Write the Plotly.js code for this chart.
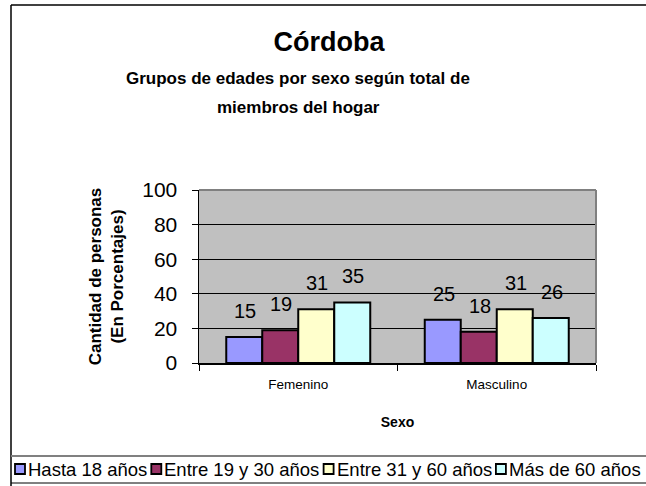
<!DOCTYPE html>
<html><head><meta charset="utf-8">
<script src="https://cdn.plot.ly/plotly-3.0.1.min.js"></script>
<style>html,body{margin:0;padding:0;background:#fff;} #chart{width:646px;height:486px;}</style>
</head><body><div id="chart"></div>
<script>
// ---- data ----
const categories = ["Femenino", "Masculino"];
const seriesNames = ["Hasta 18 años", "Entre 19 y 30 años", "Entre 31 y 60 años", "Más de 60 años"];
const hasta18 = [15, 25];
const entre19y30 = [19, 18];
const entre31y60 = [31, 31];
const masDe60 = [35, 26];
const seriesColors = ["#9999FF", "#993366", "#FFFFCC", "#CCFFFF"];
const yTickVals = [0, 20, 40, 60, 80, 100];
const titleText = "Córdoba";
const subtitleLines = ["Grupos de edades por sexo según total de", "miembros del hogar"];
const xTitleText = "Sexo";
const yTitleText = "Cantidad de personas<br>(En Porcentajes)";

// ---- geometry ----
const W = 646, H = 486;
const L = 199, R = 596, T = 190, B = 363;
const FONT = '"Liberation Sans", Arial, Helvetica, sans-serif';
const px = x => (x - L) / (R - L);
const py = y => (B - y) / (B - T);
const bargap = 0.2746;

const seriesValues = [hasta18, entre19y30, entre31y60, masDe60];
const traces = seriesValues.map((vals, i) => ({
  type: 'bar', name: seriesNames[i], x: categories, y: vals,
  marker: {color: seriesColors[i], line: {color: '#000', width: 2}},
  hoverinfo: 'skip', showlegend: false
}));

const nS = seriesValues.length;
const bw = (R - L) / categories.length * (1 - bargap) / nS;
const annotations = [];
seriesValues.forEach((vals, i) => {
  vals.forEach((v, j) => {
    annotations.push({x: categories[j], y: v, xref: 'x', yref: 'y', text: String(v),
      showarrow: false, xshift: (i - (nS - 1) / 2) * bw + 1, yshift: 26, yanchor: 'middle',
      font: {family: FONT, size: 20, color: '#000'}});
  });
});
// subtitle lines
const subY = [78, 108];
subtitleLines.forEach((t, k) => {
  annotations.push({xref: 'paper', yref: 'paper', x: px(298), y: py(subY[k]), xanchor: 'center', yanchor: 'middle',
    text: '<b>' + t + '</b>', showarrow: false, font: {family: FONT, size: 17, color: '#000'}});
});

// manual legend
const legendSize = 18.5;
const ctx = document.createElement('canvas').getContext('2d');
ctx.font = legendSize + 'px ' + FONT;
const shapes = [];
let cx = 15;
const ly = 469;
seriesNames.forEach((name, i) => {
  shapes.push({type: 'rect', xref: 'paper', yref: 'paper', x0: px(cx), x1: px(cx + 10), y0: py(ly + 5), y1: py(ly - 5),
    fillcolor: seriesColors[i], line: {color: '#000', width: 1.8}});
  const tx = cx + 12;
  annotations.push({xref: 'paper', yref: 'paper', x: px(tx), y: py(ly), xanchor: 'left', yanchor: 'middle',
    text: name, showarrow: false, borderpad: 0, font: {family: FONT, size: legendSize, color: '#000'}});
  cx = tx + ctx.measureText(name).width + 5;
});

// frame lines
shapes.push({type: 'line', xref: 'paper', yref: 'paper', x0: px(11), x1: px(W), y0: py(5), y1: py(5), line: {color: '#000', width: 1.5}});
shapes.push({type: 'line', xref: 'paper', yref: 'paper', x0: px(11), x1: px(11), y0: py(5), y1: py(H), line: {color: '#000', width: 1.5}});
shapes.push({type: 'line', xref: 'paper', yref: 'paper', x0: px(11), x1: px(W), y0: py(456), y1: py(456), line: {color: '#808080', width: 2}});
shapes.push({type: 'line', xref: 'paper', yref: 'paper', x0: px(11), x1: px(W), y0: py(483), y1: py(483), line: {color: '#000', width: 1}});
// plot border top / right (gray)
shapes.push({type: 'line', xref: 'paper', yref: 'paper', x0: 0, x1: 1, y0: 1, y1: 1, line: {color: '#808080', width: 2}});
shapes.push({type: 'line', xref: 'paper', yref: 'paper', x0: 1, x1: 1, y0: 0, y1: 1, line: {color: '#808080', width: 2}});

const layout = {
  width: W, height: H,
  margin: {l: L, r: W - R, t: T, b: H - B, pad: 0},
  paper_bgcolor: '#fff', plot_bgcolor: '#C0C0C0',
  font: {family: FONT, color: '#000'},
  barmode: 'group', bargap: bargap, bargroupgap: 0,
  showlegend: false,
  title: {text: '<b>' + titleText + '</b>', font: {family: FONT, size: 27, color: '#000'},
    x: 329 / W, xref: 'container', xanchor: 'center', y: 1 - 42 / H, yref: 'container', yanchor: 'middle'},
  xaxis: {type: 'category', showline: true, linecolor: '#000', linewidth: 1.5,
    ticks: 'outside', tickson: 'boundaries', ticklen: 6, tickcolor: '#000', tickwidth: 1,
    tickfont: {family: FONT, size: 13.5, color: '#000'}, showgrid: false, fixedrange: true,
    ticklabelstandoff: 8, automargin: false,
    title: {text: '<b>' + xTitleText + '</b>', font: {family: FONT, size: 14, color: '#000'}, standoff: 26}},
  yaxis: {range: [0, 100], tickmode: 'array', tickvals: yTickVals, showline: true, linecolor: '#000', linewidth: 1.5,
    ticks: 'outside', ticklen: 6, tickcolor: '#000', tickwidth: 1, zeroline: false,
    showgrid: true, gridcolor: '#000', gridwidth: 1,
    tickfont: {family: FONT, size: 21, color: '#000'}, ticklabelstandoff: 10, automargin: false, fixedrange: true,
    title: {text: '<b>' + yTitleText + '</b>', font: {family: FONT, size: 17, color: '#000'}, standoff: 14}},
  annotations: annotations,
  shapes: shapes
};

Plotly.newPlot('chart', traces, layout, {displayModeBar: false, staticPlot: true});
</script>
</body></html>
